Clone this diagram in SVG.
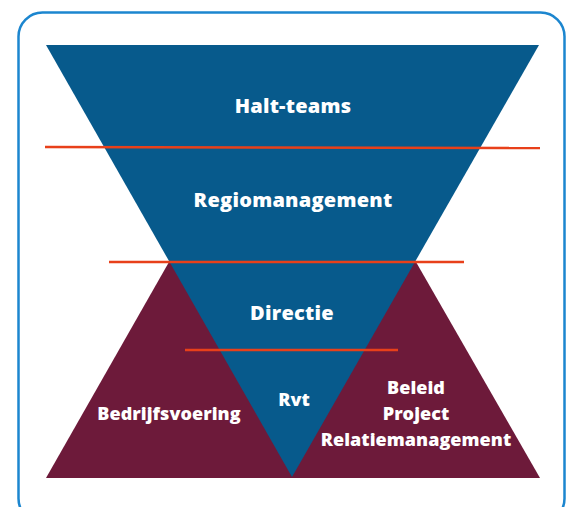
<svg xmlns="http://www.w3.org/2000/svg" width="573" height="507" viewBox="0 0 573 507">
<style>
.t{font-family:"Open Sans","Liberation Sans",sans-serif;font-weight:800;fill:#ffffff;text-anchor:middle}
.big{font-size:20px;letter-spacing:0.25px}
.sm{font-size:18px;letter-spacing:0.05px}
.red{stroke:#e8401a;stroke-width:2.5}
</style>
<rect width="573" height="507" fill="#ffffff"/>
<rect x="18.5" y="12.5" width="546" height="510" rx="24" fill="none" stroke="#1c86cf" stroke-width="2.5"/>
<g id="base"><polygon points="46,478 169,262 416,262 540,478" fill="#6d1a3a"/></g>
<g id="funnel"><polygon points="46,45 539,45 292,477" fill="#075a8c"/></g>
<g id="connectors">
<line class="red" x1="45" y1="147" x2="540" y2="148"/>
<line class="red" x1="109" y1="262" x2="464" y2="262"/>
<line class="red" x1="185" y1="350" x2="398" y2="350"/>
</g>
<g id="halt-teams"><text class="t big" x="293" y="113">Halt-teams</text></g>
<g id="regiomanagement"><text class="t big" x="293" y="207">Regiomanagement</text></g>
<g id="directie"><text class="t big" x="292" y="320">Directie</text></g>
<g id="rvt"><text class="t sm" x="294" y="406">Rvt</text></g>
<g id="bedrijfsvoering"><text class="t sm" x="169" y="420">Bedrijfsvoering</text></g>
<g id="beleid"><text class="t sm" x="416" y="394">Beleid</text><text class="t sm" x="416" y="420">Project</text><text class="t sm" x="416" y="446">Relatiemanagement</text></g>
</svg>
